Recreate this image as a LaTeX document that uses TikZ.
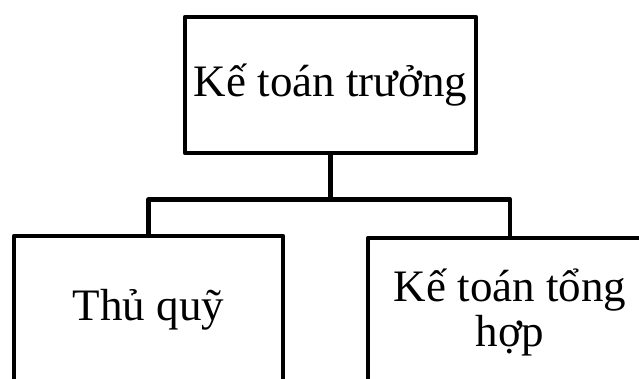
\documentclass[tikz,border=0pt]{standalone}
\usepackage{fontspec}
\setmainfont{Liberation Serif}
\usetikzlibrary{positioning}
\tikzset{
  obox/.style = {draw, line width=4.5pt, line join=round, fill=white,
                 inner sep=0pt, align=center,
                 font=\fontsize{45pt}{45pt}\selectfont},
  conn/.style = {line width=4.5pt, line join=round},
}
\begin{document}
\begin{tikzpicture}[x=1pt,y=-1pt]
  \useasboundingbox (0,0) rectangle (639,378);
  \clip (0,0) rectangle (639,378);
  \node[obox, minimum width=291pt, minimum height=136pt] (ktt) at (330.5,85) {Kế toán trưởng};
  \node[obox, minimum width=269pt, minimum height=148pt] (tq) at (148.5,310) {Thủ quỹ};
  \node[obox, minimum width=284pt, minimum height=148pt] (kth) at (510,312) {Kế toán tổng\\hợp};
  \draw[conn] (ktt.south) -- ++(0,44) coordinate (j);
  \draw[conn] (tq.north) |- (j) -| (kth.north);
\end{tikzpicture}
\end{document}
